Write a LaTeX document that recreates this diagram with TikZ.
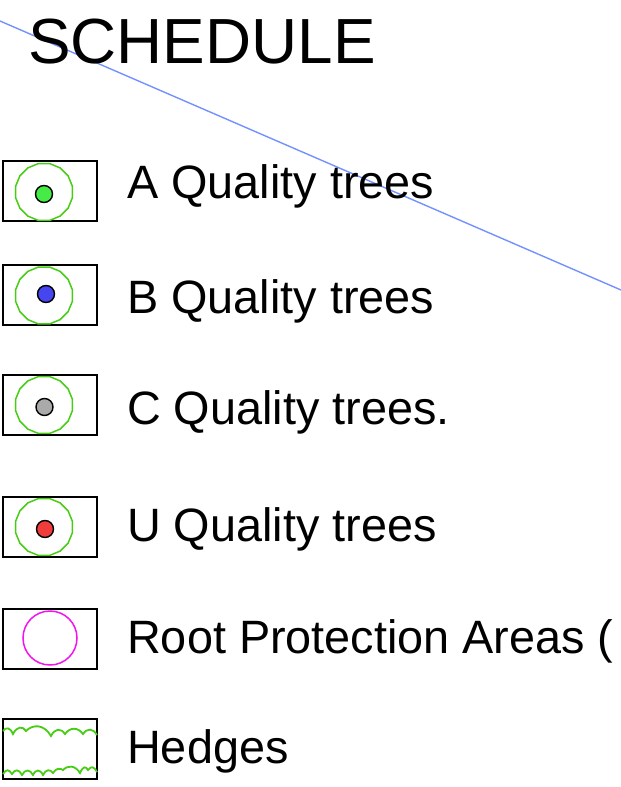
\documentclass[tikz,border=0pt]{standalone}
\usepackage{fontspec}
\setmainfont{Liberation Sans}
\usetikzlibrary{shapes.geometric}
\definecolor{treegreen}{RGB}{70,205,20}
\definecolor{planline}{RGB}{115,145,255}
\definecolor{rpamag}{RGB}{240,20,240}
\definecolor{dotA}{RGB}{70,235,70}
\definecolor{dotB}{RGB}{70,70,240}
\definecolor{dotC}{RGB}{170,170,170}
\definecolor{dotU}{RGB}{240,60,60}
\tikzset{
  keybox/.style={draw=black, line width=1.7pt, minimum width=94pt, minimum height=60pt, inner sep=0pt},
  canopy/.style={draw=treegreen, line width=1.5pt, regular polygon, regular polygon sides=16, minimum size=58pt, inner sep=0pt},
  stem/.style={circle, draw=black, line width=1.4pt, minimum size=17pt, inner sep=0pt},
  label/.style={anchor=base west, inner sep=0pt, font=\fontsize{46.8}{50}\selectfont},
  hedge/.style={draw=treegreen, line width=1.8pt}
}
\begin{document}
\begin{tikzpicture}[x=1pt,y=-1pt]
\useasboundingbox (0,0) rectangle (621,787);
% plan line
\coordinate (l1) at (0,21);
\coordinate (l2) at (621,290);
\draw[planline, line width=1.4pt] (l1) -- (l2);
% title
\node[anchor=base west, inner sep=0pt, font=\fontsize{63.8}{70}\selectfont] (title) at (28,63) {SCHEDULE};
% A
\node[keybox] (boxA) at (50,191) {};
\node[canopy] (canA) at (44,192) {};
\node[stem, fill=dotA] (dA) at (44,194) {};
\node[label] (tA) at (127,198) {A Quality trees};
% B
\node[keybox] (boxB) at (50,295) {};
\node[canopy] (canB) at (44,295.5) {};
\node[stem, fill=dotB] (dB) at (46,294) {};
\node[label] (tB) at (127,313) {B Quality trees};
% C
\node[keybox] (boxC) at (50,405) {};
\node[canopy] (canC) at (44,405) {};
\node[stem, fill=dotC] (dC) at (44.5,407) {};
\node[label] (tC) at (127,424) {C Quality trees.};
% U
\node[keybox] (boxU) at (50,527) {};
\node[canopy] (canU) at (44,527) {};
\node[stem, fill=dotU] (dU) at (45,529) {};
\node[label] (tU) at (127,541) {U Quality trees};
% RPA
\node[keybox] (boxR) at (50,639) {};
\node[circle, draw=rpamag, line width=1.5pt, minimum size=54pt, inner sep=0pt] (rpa) at (50,638) {};
\node[label] (tR) at (127,653) {Root Protection Areas (};
% Hedges
\node[keybox] (boxH) at (50,749) {};
\node[label] (tH) at (127,763) {Hedges};
\draw[hedge] (3,731)
  .. controls (6,727) and (10,727) .. (13,734)
  .. controls (17,726) and (23,726) .. (26,731)
  .. controls (33,724) and (44,724) .. (51,736)
  .. controls (55,728) and (61,728) .. (65,734)
  .. controls (70,727) and (78,727) .. (83,734)
  .. controls (87,728) and (93,728) .. (97,735);
\draw[hedge] (3,774)
  .. controls (6,769) and (9,769) .. (12,774)
  .. controls (15,769) and (19,769) .. (22,775)
  .. controls (25,769) and (30,769) .. (33,775)
  .. controls (36,769) and (40,769) .. (43,775)
  .. controls (46,769) and (50,769) .. (53,773)
  .. controls (56,768) and (60,768) .. (63,770)
  .. controls (68,765) and (75,765) .. (80,773)
  .. controls (83,766) and (86,766) .. (88,770)
  .. controls (91,766) and (94,766) .. (97,772);
\end{tikzpicture}
\end{document}
